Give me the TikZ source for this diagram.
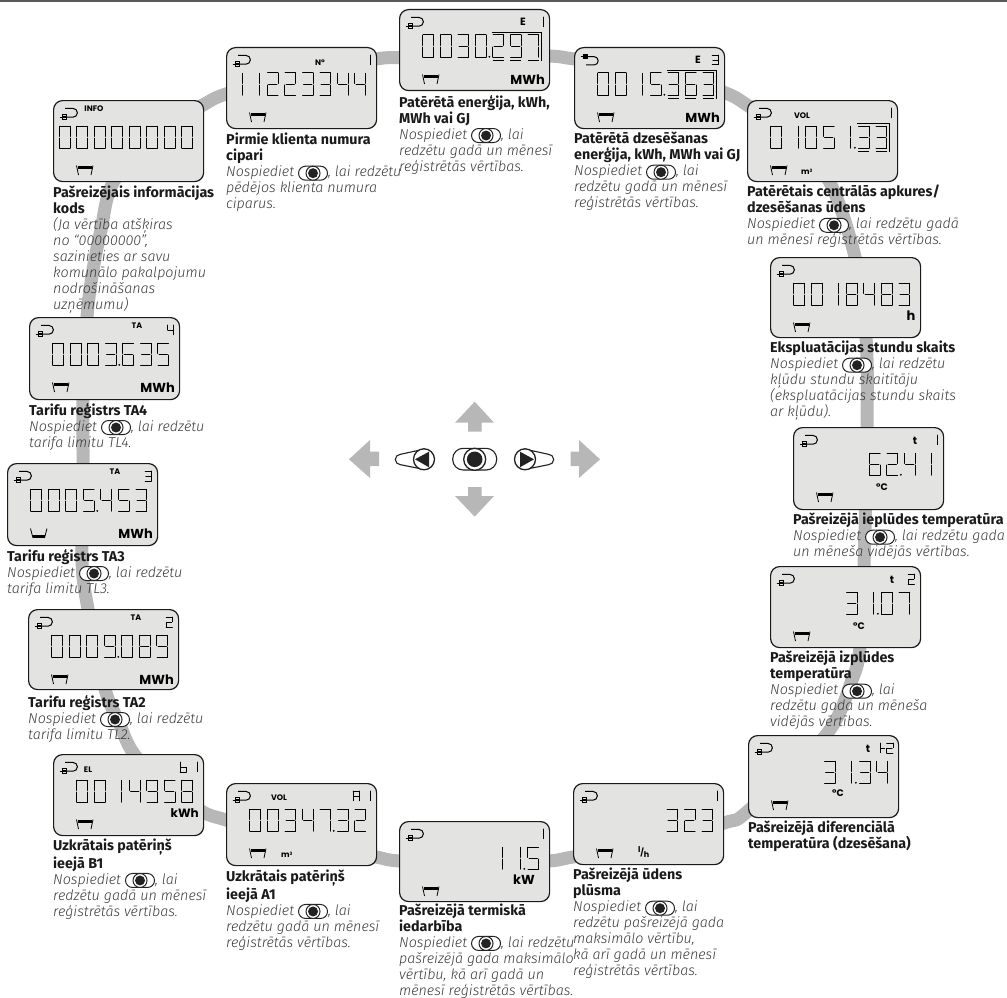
\documentclass[tikz,border=0pt]{standalone}
\usepackage{fontspec}
\setmainfont{Fira Sans}
\newfontfamily\ifam{Fira Sans Light}
\newfontfamily\ufam{Poppins}
\newcommand\B{\bfseries\upshape\color{labk}}
\newcommand\I{\ifam\itshape\color{labi}}
\definecolor{labk}{HTML}{1A1A1A}
\definecolor{labi}{HTML}{3A3A3A}
\definecolor{lcdbg}{HTML}{E3E4E2}
\definecolor{ringc}{HTML}{B7B7B7}
\definecolor{topbar}{HTML}{5A5A5A}
\definecolor{disc}{HTML}{222222}
\newcommand\lcdw{1pt}
\tikzset{
  lcdline/.style={line width=\lcdw,line cap=round,black},
  lcdpanelbox/.style={draw=labk,line width=1.2pt,fill=lcdbg,rounded corners=9pt,minimum width=150pt,anchor=north west,inner sep=0pt},
  lab/.style={anchor=north west,inner sep=0pt,align=left,font=\fontsize{14.3}{16}\selectfont},
  unitb/.style={inner sep=0pt,font=\ufam\bfseries\fontsize{13}{14}\selectfont},
  unitc/.style={inner sep=0pt,font=\ufam\bfseries\fontsize{9.5}{10}\selectfont},
  units/.style={inner sep=0pt,font=\ufam\bfseries\fontsize{8}{9}\selectfont},
  idxl/.style={inner sep=0pt,font=\ufam\bfseries\fontsize{10.5}{11}\selectfont},
  grayarrow/.style={fill=ringc,draw=none},
  btnline/.style={draw=disc,line width=1.1pt,fill=white}
}
% seven-segment parts (11 x 22.5)
\newcommand\sgA{\draw[lcdline] (0.3,0)--(10.7,0);}
\newcommand\sgB{\draw[lcdline] (11,0.3)--(11,10.4);}
\newcommand\sgC{\draw[lcdline] (11,12.1)--(11,22.2);}
\newcommand\sgD{\draw[lcdline] (0.3,22.5)--(10.7,22.5);}
\newcommand\sgE{\draw[lcdline] (0,12.1)--(0,22.2);}
\newcommand\sgF{\draw[lcdline] (0,0.3)--(0,10.4);}
\newcommand\sgG{\draw[lcdline] (1.4,11.25)--(9.6,11.25);}
\expandafter\def\csname lseg0\endcsname{\sgA\sgB\sgC\sgD\sgE\sgF}
\expandafter\def\csname lseg1\endcsname{\draw[lcdline] (10,0.3)--(10,10.4);\draw[lcdline] (10,12.1)--(10,22.2);}
\expandafter\def\csname lseg2\endcsname{\sgA\sgB\sgG\sgE\sgD}
\expandafter\def\csname lseg3\endcsname{\sgA\sgB\sgG\sgC\sgD}
\expandafter\def\csname lseg4\endcsname{\sgF\sgG\sgB\sgC}
\expandafter\def\csname lseg5\endcsname{\sgA\sgF\sgG\sgC\sgD}
\expandafter\def\csname lseg6\endcsname{\sgA\sgF\sgG\sgE\sgC\sgD}
\expandafter\def\csname lseg7\endcsname{\sgA\sgB\sgC}
\expandafter\def\csname lseg8\endcsname{\sgA\sgB\sgC\sgD\sgE\sgF\sgG}
\expandafter\def\csname lseg9\endcsname{\sgA\sgB\sgC\sgD\sgF\sgG}
\expandafter\def\csname lsegA\endcsname{\sgA\sgB\sgC\sgE\sgF\sgG}
\expandafter\def\csname lsegb\endcsname{\sgF\sgE\sgD\sgC\sgG}
\expandafter\def\csname lsegx\endcsname{}
% digit row on the 8-position grid
\newcommand\lrow[1]{\foreach \dgc [count=\dgi from 0] in {#1}{\begin{scope}[shift={({6.3+17.5*\dgi},26)}]\csname lseg\dgc\endcsname\end{scope}}}
\newcommand\ldot[1]{\fill[black] ({6.3+17.5*#1+14},47.8) circle (1pt);}
\newcommand\lsmall[2]{\begin{scope}[shift={(#1,8)},xscale=0.6,yscale=0.44]\renewcommand\lcdw{.8pt}\csname lseg#2\endcsname\end{scope}}
\newcommand\lbracket[1]{%
  \draw[line width=.7pt,black] ({6.3+17.5*#1-1},23.8)--(142.5,23.8)--(142.5,51.6);
  \foreach \dgk in {#1,...,7}{\draw[line width=.9pt,black] ({6.3+17.5*\dgk},51.2)--({6.3+17.5*\dgk+11},51.2);}}
% plug icon, hook below the socket row
\newcommand\plugicon{\draw[line width=1pt,black] (12,8.4)--(20,8.4) arc[start angle=-90,end angle=90,radius=4.4]--(13.5,17.2);
  \draw[line width=.8pt,black,fill=lcdbg] (9.2,14.8) rectangle (13.5,19);
  \fill[black] (10.3,15.8) rectangle (12.5,18);
  \draw[line width=.8pt,black] (6.5,17)--(9.2,17);}
% plug icon, socket on top
\newcommand\plugup{\draw[line width=1pt,black] (13.5,9.6)--(20,9.6) arc[start angle=-90,end angle=90,radius=4.2]--(12,18);
  \draw[line width=.8pt,black,fill=lcdbg] (9.2,7.5) rectangle (13.5,11.7);
  \fill[black] (10.3,8.5) rectangle (12.5,10.7);
  \draw[line width=.8pt,black] (6.5,9.6)--(9.2,9.6);}
% tub icons
\newcommand\tubtop{\draw[line width=.8pt,black] (23.5,65.5)--(25.5,75) (40,65.5)--(38,75);\fill[black] (24.5,65.8) rectangle (39,68.6);}
\newcommand\tubbot{\draw[line width=.8pt,black] (23.5,65.5)--(26,75) (40,65.5)--(37.5,75);\fill[black] (26,72.4) rectangle (37.5,75);}
% panel
\newcommand\panel[5]{\node[lcdpanelbox,minimum height=#4 pt] (#1) at (#2,#3) {};
  \begin{scope}[shift={(#2,#3)}]#5\end{scope}}
% inline button
\newcommand\btn{\tikz[baseline=-3.6pt,x=1pt,y=1pt]{\draw[disc,line width=1pt,fill=white,rounded corners=7pt] (-14.5,-7) rectangle (14.5,7);
  \draw[disc,line width=1pt,fill=white] (0,0) circle (7pt);\fill[disc] (0,0) circle (5pt);}}
\begin{document}
\begin{tikzpicture}[x=1pt,y=-1pt]
\useasboundingbox (0,0) rectangle (1007,998);
\fill[topbar] (0,0) rectangle (1007,2);
% ring
\draw[ringc,line width=13pt] plot[smooth cycle,tension=.55] coordinates {
(475,54)(549,56)(574,59)(660,72)(723,92)(747,105)(790,137)(829,181)(855,257)(866,337)(867,427)(864,566)(860,647)(852,680)(826,735)(748,811)(724,823)(650,845)(573,857)(549,861)(475,866)(399,861)(376,857)(300,842)(226,820)(203,812)(170,790)(134,754)(118,720)(105,689)(88,609)(82,560)(83,463)(83,399)(87,317)(93,270)(101,230)(114,181)(160,130)(203,105)(226,94)(300,72)(376,59)(399,57.5)};
% labels
\node[lab] (t01) at (399,95) {\B Patērētā enerģija, kWh,\\\B MWh vai GJ\\\I Nospiediet \btn, lai\\\I redzētu gadā un mēnesī\\\I reģistrētās vērtības.};
\node[lab] (t02) at (574,132) {\B Patērētā dzesēšanas\\\B enerģija, kWh, MWh vai GJ\\\I Nospiediet \btn, lai\\\I redzētu gadā un mēnesī\\\I reģistrētās vērtības.};
\node[lab] (t03) at (747,185) {\B Patērētais centrālās apkures/\\\B dzesēšanas ūdens\\\I Nospiediet \btn, lai redzētu gadā\\\I un mēnesī reģistrētās vērtības.};
\node[lab] (t04) at (770,341) {\B Ekspluatācijas stundu skaits\\\I Nospiediet \btn, lai redzētu\\\I kļūdu stundu skaitītāju\\\I (ekspluatācijas stundu skaits\\\I ar kļūdu).};
\node[lab] (t05) at (793,513) {\B Pašreizējā ieplūdes temperatūra\\\I Nospiediet \btn, lai redzētu gada\\\I un mēneša vidējās vērtības.};
\node[lab] (t06) at (770,651) {\B Pašreizējā izplūdes\\\B temperatūra\\\I Nospiediet \btn, lai\\\I redzētu gada un mēneša\\\I vidējās vērtības.};
\node[lab] (t07) at (748,821) {\B Pašreizējā diferenciālā\\\B temperatūra (dzesēšana)};
\node[lab] (t08) at (573,868) {\B Pašreizējā ūdens\\\B plūsma\\\I Nospiediet \btn, lai\\\I redzētu pašreizējā gada\\\I maksimālo vērtību,\\\I kā arī gadā un mēnesī\\\I reģistrētās vērtības.};
\node[lab] (t09) at (399,903.2) {\B Pašreizējā termiskā\\\B iedarbība\\\I Nospiediet \btn, lai redzētu\\\I pašreizējā gada maksimālo\\\I vērtību, kā arī gadā un\\\I mēnesī reģistrētās vērtības.};
\node[lab] (t10) at (226,870) {\B Uzkrātais patēriņš\\\B ieejā A1\\\I Nospiediet \btn, lai\\\I redzētu gadā un mēnesī\\\I reģistrētās vērtības.};
\node[lab] (t11) at (53,839) {\B Uzkrātais patēriņš\\\B ieejā B1\\\I Nospiediet \btn, lai\\\I redzētu gadā un mēnesī\\\I reģistrētās vērtības.};
\node[lab] (t12) at (28,695) {\B Tarifu reģistrs TA2\\\I Nospiediet \btn, lai redzētu\\\I tarifa limitu TL2.};
\node[lab] (t13) at (7,549) {\B Tarifu reģistrs TA3\\\I Nospiediet \btn, lai redzētu\\\I tarifa limitu TL3.};
\node[lab] (t14) at (29,403) {\B Tarifu reģistrs TA4\\\I Nospiediet \btn, lai redzētu\\\I tarifa limitu TL4.};
\node[lab] (t15) at (53,186) {\B Pašreizējais informācijas\\\B kods\\\I (Ja vērtība atšķiras\\\I no “00000000”,\\\I sazinieties ar savu\\\I komunālo pakalpojumu\\\I nodrošināšanas\\\I uzņēmumu)};
\node[lab] (t16) at (226,133) {\B Pirmie klienta numura\\\B cipari\\\I Nospiediet \btn, lai redzētu\\\I pēdējos klienta numura\\\I ciparus.};
% panels
\panel{p01}{399}{9}{81}{\plugicon\tubtop\lrow{x,0,0,3,0,2,9,7}\ldot{4}\lbracket{5}
  \node[idxl] (u01a) at (124,13) {E};\lsmall{138}{1}\node[unitb,anchor=east] (u01) at (146,71) {MWh};}
\panel{p02}{574}{47}{81}{\plugup\tubtop\lrow{x,0,0,1,5,3,6,3}\ldot{4}\lbracket{5}
  \node[idxl] (u02a) at (124,13) {E};\lsmall{138}{3}\node[unitb,anchor=east] (u02) at (146,71) {MWh};}
\panel{p03}{747}{100}{81}{\plugicon\tubtop\lrow{x,0,1,0,5,1,3,3}\ldot{5}\lbracket{6}
  \lsmall{138}{1}\node[units] (u03a) at (55,16) {VOL};\node[units,anchor=west] (u03) at (54,72) {m\raisebox{2.5pt}{\fontsize{4.5}{5}\selectfont 3}};}
\panel{p04}{770}{257}{80}{\plugicon\tubtop\lrow{x,0,0,1,8,4,8,3}
  \node[unitb] (u04) at (141,59) {h};}
\panel{p05}{793}{427}{82}{\plugicon\tubtop\lrow{x,x,x,x,6,2,4,1}\ldot{5}
  \node[idxl] (u05a) at (122,14) {t};\lsmall{138}{1}\node[unitc] (u05) at (89,60) {°C};}
\panel{p06}{770}{566}{81}{\plugicon\tubtop\lrow{x,x,x,x,3,1,0,7}\ldot{5}
  \node[idxl] (u06a) at (122,14) {t};\lsmall{138}{2}\node[unitc] (u06) at (89,60) {°C};}
\panel{p07}{748}{735}{82}{\plugicon\tubtop\lrow{x,x,x,x,3,1,3,4}\ldot{5}
  \node[idxl] (u07a) at (120,14) {t};\lsmall{126}{1}\draw[line width=.9pt] (133,13)--(137,13);\lsmall{138.5}{2}\node[unitc] (u07) at (90,58) {°C};}
\panel{p08}{573}{783}{81}{\plugicon\tubtop\lrow{x,x,x,x,x,3,2,3}
  \lsmall{138}{1}\node[units,anchor=west] (u08) at (65,69) {\raisebox{3pt}{l}\hspace{-.3pt}/\raisebox{-1.5pt}{h}};}
\panel{p09}{399}{821}{80}{\plugicon\tubtop\lrow{x,x,x,x,x,1,1,5}\ldot{6}
  \lsmall{138}{1}\node[unitb] (u09) at (125,59) {kW};}
\panel{p10}{226}{783}{82}{\plugicon\tubtop\lrow{x,0,0,3,4,7,3,2}\ldot{5}
  \lsmall{127}{A}\lsmall{138}{1}\node[units] (u10a) at (53,15) {VOL};\node[units,anchor=west] (u10) at (55,72) {m\raisebox{2.5pt}{\fontsize{4.5}{5}\selectfont 3}};}
\panel{p11}{53}{754}{81}{\plugicon\tubtop\lrow{x,0,0,1,4,9,5,8}
  \lsmall{127}{b}\lsmall{138}{1}\node[units] (u11a) at (35,16) {EL};\node[unitb,anchor=east,font=\ufam\bfseries\fontsize{12}{13}\selectfont] (u11) at (146,59) {kWh};}
\panel{p12}{28}{609}{80}{\plugicon\tubtop\lrow{x,0,0,0,9,0,8,9}\ldot{4}
  \lsmall{138}{2}\node[units] (u12a) at (108,8.5) {TA};\node[unitb,anchor=east] (u12) at (146,71) {MWh};}
\panel{p13}{7}{463}{82}{\plugicon\tubbot\lrow{x,0,0,0,5,4,5,3}\ldot{4}
  \lsmall{138}{3}\node[units] (u13a) at (108,9) {TA};\node[unitb,anchor=east] (u13) at (146,71) {MWh};}
\panel{p14}{29}{317}{82}{\plugicon\tubtop\lrow{x,0,0,0,3,6,3,5}\ldot{4}
  \lsmall{138}{4}\node[units] (u14a) at (108,9) {TA};\node[unitb,anchor=east] (u14) at (146,71) {MWh};}
\panel{p15}{53}{100}{81}{\plugicon\tubtop\lrow{0,0,0,0,0,0,0,0}
  \node[units] (u15a) at (41,9) {INFO};}
\panel{p16}{226}{47}{81}{\plugicon\tubtop\lrow{1,1,2,2,3,3,4,4}
  \lsmall{138}{1}\node[units] (u16a) at (94,16) {N°};}
% arrows
\fill[grayarrow] (474.7,401.7)--(494,422.7)--(481.7,422.7)--(481.7,431.7)--(468,431.7)--(468,422.7)--(455,422.7)--cycle;
\fill[grayarrow] (474.7,516.7)--(494,496)--(481.7,496)--(481.7,487)--(468,487)--(468,496)--(455,496)--cycle;
\fill[grayarrow] (349,459.3)--(370,440)--(370,451.7)--(379,451.7)--(379,466)--(370,466)--(370,478)--cycle;
\fill[grayarrow] (600,459.3)--(579,440)--(579,451.7)--(570.7,451.7)--(570.7,466)--(579,466)--(579,478)--cycle;
% buttons
\draw[btnline] (422,449.6)--(400.5,454.3) arc[start angle=-90,end angle=-270,radius=5.2]--(422,469);
\draw[draw=disc,line width=1.3pt,fill=white] (424,459.3) circle (10.5pt);
\fill[disc] (415,459.3)--(429,451.7)--(429,467.3)--cycle;
\draw[btnline] (527,449.6)--(548.5,454.3) arc[start angle=-90,end angle=90,radius=5.2]--(527,469);
\draw[draw=disc,line width=1.3pt,fill=white] (525,459.3) circle (10.5pt);
\fill[disc] (534,459.3)--(520,451.7)--(520,467.3)--cycle;
\draw[draw=disc,line width=1.1pt,fill=white,rounded corners=10.5pt] (452.7,448.3) rectangle (496.7,470);
\draw[draw=disc,line width=1.3pt,fill=white] (474.7,459.3) circle (11pt);
\fill[disc] (474.7,459.3) circle (7.8pt);
\end{tikzpicture}
\end{document}
